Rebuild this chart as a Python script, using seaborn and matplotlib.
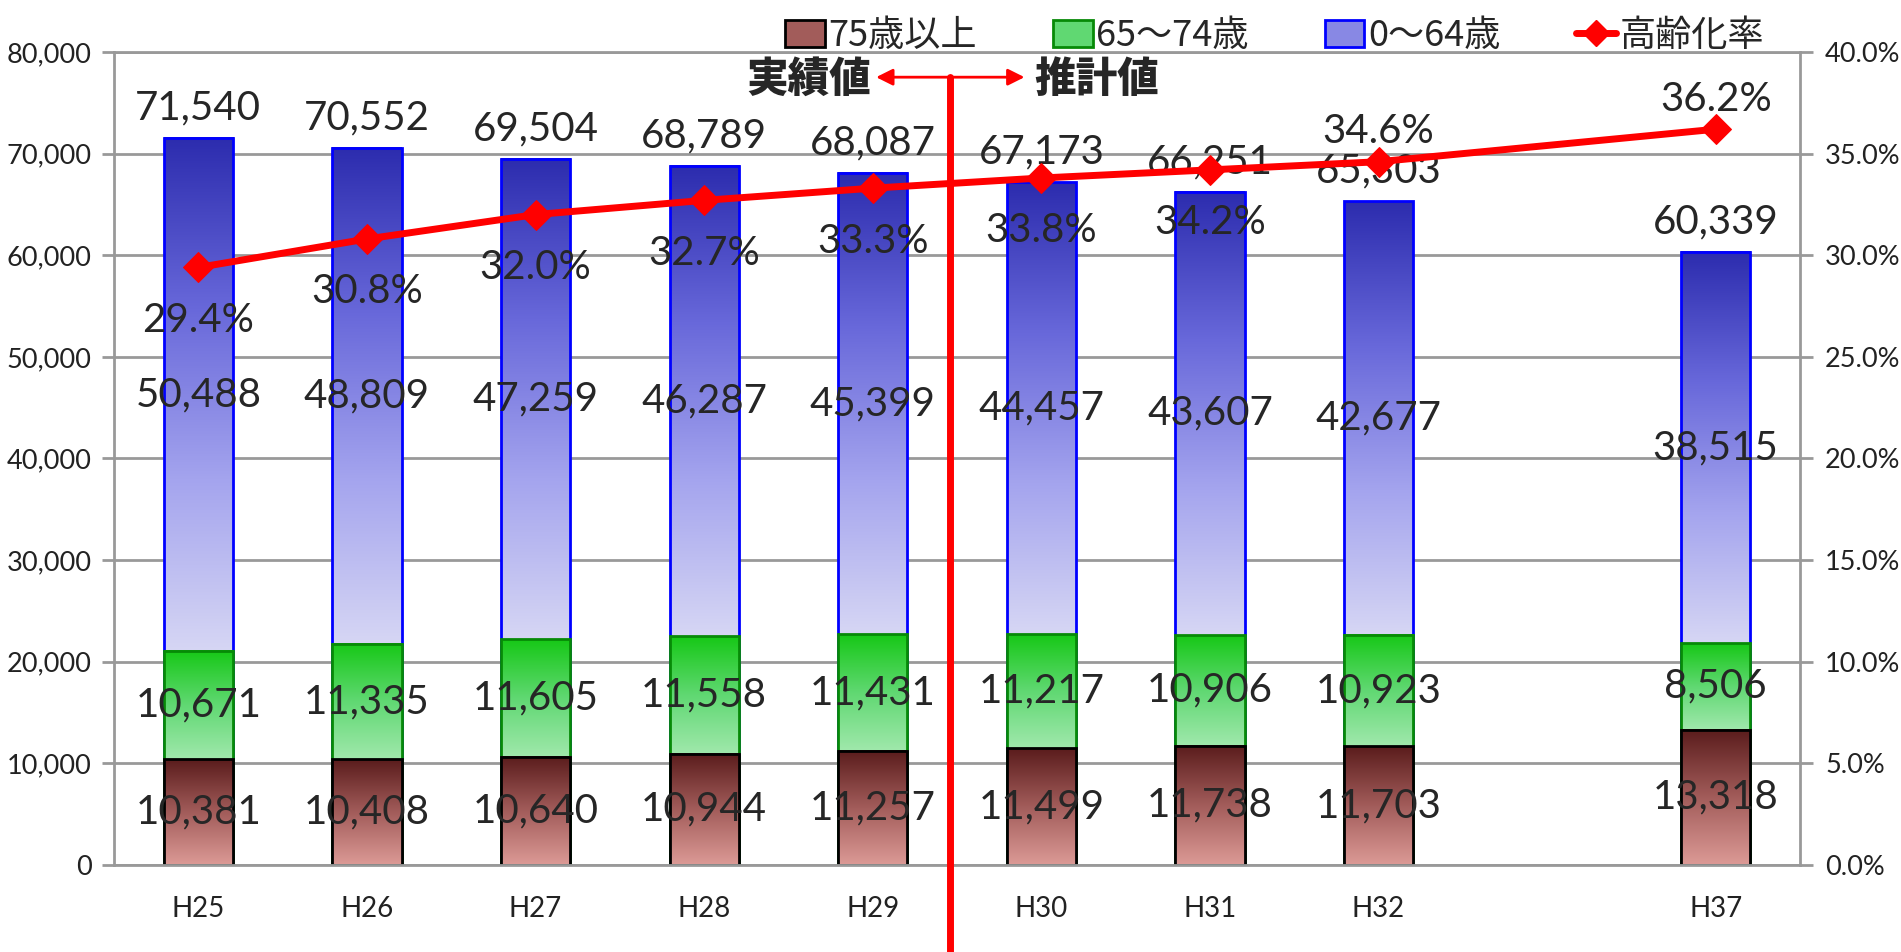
import numpy as np
import pandas as pd
import seaborn as sns
import matplotlib.pyplot as plt
from matplotlib.colors import LinearSegmentedColormap
from matplotlib.patches import Patch
from matplotlib.lines import Line2D

# %%
years = ['H25', 'H26', 'H27', 'H28', 'H29', 'H30', 'H31', 'H32', ' ', 'H37']
age75 = [10381, 10408, 10640, 10944, 11257, 11499, 11738, 11703, np.nan, 13318]
age65 = [10671, 11335, 11605, 11558, 11431, 11217, 10906, 10923, np.nan, 8506]
age0 = [50488, 48809, 47259, 46287, 45399, 44457, 43607, 42677, np.nan, 38515]
total = [71540, 70552, 69504, 68789, 68087, 67173, 66251, 65303, np.nan, 60339]
rate = [29.4, 30.8, 32.0, 32.7, 33.3, 33.8, 34.2, 34.6, np.nan, 36.2]
legend_labels = ['75歳以上', '65～74歳', '0～64歳', '高齢化率']

# %%
sns.set_style('white')
plt.rcParams['font.family'] = ['Noto Sans CJK JP', 'DejaVu Sans']
num_font = ['Lato', 'DejaVu Sans']

df = pd.DataFrame({'year': years, 'age75': age75, 'age65': age65,
                   'age0': age0, 'total': total, 'rate': rate})
df['cum65'] = df['age75'] + df['age65']

fig = plt.figure(figsize=(19.01, 9.52), dpi=100)
ax = fig.add_axes([0.06, 0.0914, 0.8869, 0.854])

cm_blue = LinearSegmentedColormap.from_list('b', ['#d6d6f4', '#a4a4ee', '#6868da', '#2c2cae'])
cm_green = LinearSegmentedColormap.from_list('g', ['#a0e8ac', '#60d872', '#16c816'])
cm_red = LinearSegmentedColormap.from_list('r', ['#dc9a96', '#a25c5a', '#5a1c1c'])
grad = np.linspace(1, 0, 256).reshape(-1, 1)

# (top column, bottom column, cmap, edge, zorder)
layers = [
    ('total', 'cum65', cm_blue, '#0000ff', 2.0),
    ('cum65', 'age75', cm_green, '#078a07', 2.2),
    ('age75', None, cm_red, 'black', 2.4),
]
for top_col, bot_col, cmap, edge, z in layers:
    n0 = len(ax.patches)
    sns.barplot(data=df, x='year', y=top_col, order=years, color='white',
                width=0.41, errorbar=None, saturation=1, ax=ax,
                edgecolor=edge, linewidth=2)
    for p in ax.patches[n0:]:
        h = p.get_height()
        if np.isnan(h) or h == 0:
            p.set_visible(False)
            continue
        i = int(round(p.get_x() + p.get_width() / 2))
        b = 0 if bot_col is None else df[bot_col][i]
        ax.imshow(grad, cmap=cmap, aspect='auto', origin='upper',
                  extent=(p.get_x(), p.get_x() + p.get_width(), b, h), zorder=z)
        p.set_facecolor('none')
        p.set_zorder(z + 0.05)

# segment labels
lab_kw = dict(ha='center', va='center', fontsize=29, family=num_font, zorder=5)
for i in range(len(years)):
    if np.isnan(total[i]):
        continue
    ax.text(i, age75[i] / 2, f'{age75[i]:,}', **lab_kw)
    ax.text(i, age75[i] + age65[i] / 2, f'{age65[i]:,}', **lab_kw)
    ax.text(i, age75[i] + age65[i] + age0[i] / 2, f'{age0[i]:,}', **lab_kw)
    ax.annotate(f'{total[i]:,}', (i, total[i]), xytext=(0, 30),
                textcoords='offset pixels', **lab_kw)

ax.set_xlim(-0.5, len(years) - 0.5)
ax.set_ylim(0, 80000)
ax.set_yticks(range(0, 80001, 10000))
ax.set_yticklabels([f'{v:,}' for v in range(0, 80001, 10000)], family=num_font)
ax.set_xticks(range(len(years)))
ax.set_xticklabels(years, family=num_font)
ax.set_xticks(np.arange(-0.5, len(years), 1), minor=True)
ax.set_xlabel('')
ax.set_ylabel('')
ax.set_axisbelow(True)
ax.yaxis.grid(True, color='#999999', lw=2)
ax.tick_params(axis='y', colors='#999999', width=2, length=9, labelsize=19.5,
               labelcolor='#222222', pad=7)
ax.tick_params(axis='x', which='major', length=0, pad=22, labelsize=20, labelcolor='#222222')
ax.tick_params(axis='x', which='minor', length=9, width=2, color='#999999')
for s in ['left', 'top', 'bottom']:
    ax.spines[s].set_color('#999999')
    ax.spines[s].set_linewidth(2)
ax.spines['right'].set_visible(False)

# %% aging rate line
ax2 = ax.twinx()
mask = ~np.isnan(np.array(rate))
xs = np.arange(len(years))[mask]
rs = np.array(rate)[mask]
sns.lineplot(x=xs, y=rs, ax=ax2, color='red', lw=5, marker='D', markersize=15,
             markeredgecolor='red', errorbar=None, sort=False)
for x, r in zip(xs, rs):
    dy = 30 if x >= 7 else -53
    ax2.annotate(f'{r:.1f}%', (x, r), xytext=(0, dy), textcoords='offset pixels',
                 ha='center', va='center', fontsize=29, family=num_font)
ax2.set_ylim(0, 40)
ax2.set_yticks(np.arange(0, 40.1, 5))
ax2.set_yticklabels([f'{v:.1f}%' for v in np.arange(0, 40.1, 5)], family=num_font)
ax2.set_ylabel('')
ax2.tick_params(axis='y', colors='#999999', width=2, length=9, labelsize=19.5,
                labelcolor='#222222', pad=9)
for s in ['left', 'top', 'bottom']:
    ax2.spines[s].set_visible(False)
ax2.spines['right'].set_color('#999999')
ax2.spines['right'].set_linewidth(2)
ax2.set_xlim(-0.5, len(years) - 0.5)

# %% actual / estimate divider
tr = ax.get_xaxis_transform()
ax2.plot([4.46, 4.46], [0.969, -0.11], transform=tr, color='red', lw=5,
         clip_on=False, zorder=6)
for x_end in [4.02, 4.90]:
    ax2.annotate('', xy=(x_end, 0.969), xytext=(4.46, 0.969), xycoords=tr, textcoords=tr,
                 arrowprops=dict(arrowstyle='-|>', color='red', lw=2,
                                 mutation_scale=25, shrinkA=0, shrinkB=0))
ax2.text(3.99, 0.966, '実績値', transform=tr, ha='right', va='center',
         fontsize=30, fontweight='black')
ax2.text(4.96, 0.966, '推計値', transform=tr, ha='left', va='center',
         fontsize=30, fontweight='black')

# %% legend
handles = [
    Patch(facecolor='#a25c5a', edgecolor='black', lw=2),
    Patch(facecolor='#60d872', edgecolor='#078a07', lw=2),
    Patch(facecolor='#8888e4', edgecolor='#0000ff', lw=2),
    Line2D([], [], color='red', lw=5, marker='D', markersize=13),
]
fig.legend(handles, legend_labels, loc='upper right', bbox_to_anchor=(0.945, 1.015),
           ncol=4, frameon=False, fontsize=26, handlelength=1.1, handleheight=0.8,
           columnspacing=2.1, handletextpad=0.1)

plt.savefig('out.png', dpi=100)
